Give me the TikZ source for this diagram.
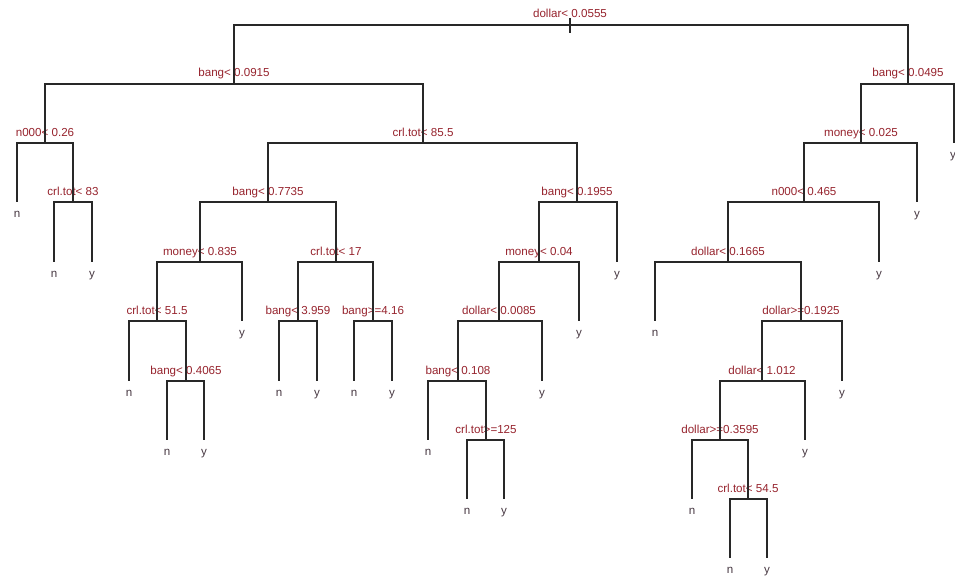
\documentclass[tikz,border=0pt]{standalone}
\usepackage{fontspec}
\setmainfont{Liberation Sans}
\usepackage{tikz}

\definecolor{splitred}{RGB}{150,35,45}
\definecolor{leafgray}{RGB}{70,55,65}
\definecolor{edgegray}{RGB}{40,40,40}

\begin{document}
\begin{tikzpicture}[x=1pt,y=-1pt,
  split/.style={anchor=base,inner sep=0pt,text=splitred,font=\fontsize{11.6}{13}\selectfont},
  leaf/.style={anchor=base,inner sep=0pt,text=leafgray,font=\fontsize{11.6}{13}\selectfont},
  edge/.style={draw=edgegray,line width=1.1pt}]
  \useasboundingbox (0,0) rectangle (955,578);
  % split points (bar levels 25, 84, 143, 202, 262, 321, 381, 440, 499, 558)
  \coordinate (s0) at (570,25);
  \coordinate (s0a) at (570,18);
  \coordinate (s0b) at (570,33);
  \coordinate (s1) at (234,84);
  \coordinate (s2) at (908,84);
  \coordinate (s3) at (45,143);
  \coordinate (s4) at (423,143);
  \coordinate (s5) at (861,143);
  \coordinate (s6) at (73,202);
  \coordinate (s7) at (268,202);
  \coordinate (s8) at (577,202);
  \coordinate (s9) at (804,202);
  \coordinate (s10) at (200,262);
  \coordinate (s11) at (336,262);
  \coordinate (s12) at (539,262);
  \coordinate (s13) at (728,262);
  \coordinate (s14) at (157,321);
  \coordinate (s15) at (298,321);
  \coordinate (s16) at (373,321);
  \coordinate (s17) at (499,321);
  \coordinate (s18) at (801,321);
  \coordinate (s19) at (186,381);
  \coordinate (s20) at (458,381);
  \coordinate (s21) at (762,381);
  \coordinate (s22) at (486,440);
  \coordinate (s23) at (720,440);
  \coordinate (s24) at (748,499);
  % split labels
  \node[split] (s0t) at (570,18) {dollar< 0.0555};
  \node[split] (s1t) at (234,77) {bang< 0.0915};
  \node[split] (s2t) at (908,77) {bang< 0.0495};
  \node[split] (s3t) at (45,136) {n000< 0.26};
  \node[split] (s4t) at (423,136) {crl.tot< 85.5};
  \node[split] (s5t) at (861,136) {money< 0.025};
  \node[split] (s6t) at (73,195) {crl.tot< 83};
  \node[split] (s7t) at (268,195) {bang< 0.7735};
  \node[split] (s8t) at (577,195) {bang< 0.1955};
  \node[split] (s9t) at (804,195) {n000< 0.465};
  \node[split] (s10t) at (200,255) {money< 0.835};
  \node[split] (s11t) at (336,255) {crl.tot< 17};
  \node[split] (s12t) at (539,255) {money< 0.04};
  \node[split] (s13t) at (728,255) {dollar< 0.1665};
  \node[split] (s14t) at (157,314) {crl.tot< 51.5};
  \node[split] (s15t) at (298,314) {bang< 3.959};
  \node[split] (s16t) at (373,314) {bang>=4.16};
  \node[split] (s17t) at (499,314) {dollar< 0.0085};
  \node[split] (s18t) at (801,314) {dollar>=0.1925};
  \node[split] (s19t) at (186,374) {bang< 0.4065};
  \node[split] (s20t) at (458,374) {bang< 0.108};
  \node[split] (s21t) at (762,374) {dollar< 1.012};
  \node[split] (s22t) at (486,433) {crl.tot>=125};
  \node[split] (s23t) at (720,433) {dollar>=0.3595};
  \node[split] (s24t) at (748,492) {crl.tot< 54.5};
  % leaf ends
  \coordinate (l1) at (17,202);
  \coordinate (l2) at (54,262);
  \coordinate (l3) at (92,262);
  \coordinate (l4) at (242,321);
  \coordinate (l5) at (129,381);
  \coordinate (l6) at (167,440);
  \coordinate (l7) at (204,440);
  \coordinate (l8) at (279,381);
  \coordinate (l9) at (317,381);
  \coordinate (l10) at (354,381);
  \coordinate (l11) at (392,381);
  \coordinate (l12) at (617,262);
  \coordinate (l13) at (579,321);
  \coordinate (l14) at (542,381);
  \coordinate (l15) at (428,440);
  \coordinate (l16) at (467,499);
  \coordinate (l17) at (504,499);
  \coordinate (l18) at (954,143);
  \coordinate (l19) at (917,202);
  \coordinate (l20) at (879,262);
  \coordinate (l21) at (655,321);
  \coordinate (l22) at (842,381);
  \coordinate (l23) at (805,440);
  \coordinate (l24) at (692,499);
  \coordinate (l25) at (730,558);
  \coordinate (l26) at (767,558);
  % leaf labels
  \node[leaf] (l1t) at (17,217) {n};
  \node[leaf] (l2t) at (54,277) {n};
  \node[leaf] (l3t) at (92,277) {y};
  \node[leaf] (l4t) at (242,336) {y};
  \node[leaf] (l5t) at (129,396) {n};
  \node[leaf] (l6t) at (167,455) {n};
  \node[leaf] (l7t) at (204,455) {y};
  \node[leaf] (l8t) at (279,396) {n};
  \node[leaf] (l9t) at (317,396) {y};
  \node[leaf] (l10t) at (354,396) {n};
  \node[leaf] (l11t) at (392,396) {y};
  \node[leaf] (l12t) at (617,277) {y};
  \node[leaf] (l13t) at (579,336) {y};
  \node[leaf] (l14t) at (542,396) {y};
  \node[leaf] (l15t) at (428,455) {n};
  \node[leaf] (l16t) at (467,514) {n};
  \node[leaf] (l17t) at (504,514) {y};
  \node[leaf] (l18t) at (953,158) {y};
  \node[leaf] (l19t) at (917,217) {y};
  \node[leaf] (l20t) at (879,277) {y};
  \node[leaf] (l21t) at (655,336) {n};
  \node[leaf] (l22t) at (842,396) {y};
  \node[leaf] (l23t) at (805,455) {y};
  \node[leaf] (l24t) at (692,514) {n};
  \node[leaf] (l25t) at (730,573) {n};
  \node[leaf] (l26t) at (767,573) {y};
  % edges
  \draw[edge] (s0a) -- (s0b);
  \draw[edge] (s0) -| (s1);
  \draw[edge] (s0) -| (s2);
  \draw[edge] (s1) -| (s3);
  \draw[edge] (s1) -| (s4);
  \draw[edge] (s3) -| (l1);
  \draw[edge] (s3) -| (s6);
  \draw[edge] (s6) -| (l2);
  \draw[edge] (s6) -| (l3);
  \draw[edge] (s4) -| (s7);
  \draw[edge] (s4) -| (s8);
  \draw[edge] (s7) -| (s10);
  \draw[edge] (s7) -| (s11);
  \draw[edge] (s10) -| (s14);
  \draw[edge] (s10) -| (l4);
  \draw[edge] (s14) -| (l5);
  \draw[edge] (s14) -| (s19);
  \draw[edge] (s19) -| (l6);
  \draw[edge] (s19) -| (l7);
  \draw[edge] (s11) -| (s15);
  \draw[edge] (s11) -| (s16);
  \draw[edge] (s15) -| (l8);
  \draw[edge] (s15) -| (l9);
  \draw[edge] (s16) -| (l10);
  \draw[edge] (s16) -| (l11);
  \draw[edge] (s8) -| (s12);
  \draw[edge] (s8) -| (l12);
  \draw[edge] (s12) -| (s17);
  \draw[edge] (s12) -| (l13);
  \draw[edge] (s17) -| (s20);
  \draw[edge] (s17) -| (l14);
  \draw[edge] (s20) -| (l15);
  \draw[edge] (s20) -| (s22);
  \draw[edge] (s22) -| (l16);
  \draw[edge] (s22) -| (l17);
  \draw[edge] (s2) -| (s5);
  \draw[edge] (s2) -| (l18);
  \draw[edge] (s5) -| (s9);
  \draw[edge] (s5) -| (l19);
  \draw[edge] (s9) -| (s13);
  \draw[edge] (s9) -| (l20);
  \draw[edge] (s13) -| (l21);
  \draw[edge] (s13) -| (s18);
  \draw[edge] (s18) -| (s21);
  \draw[edge] (s18) -| (l22);
  \draw[edge] (s21) -| (s23);
  \draw[edge] (s21) -| (l23);
  \draw[edge] (s23) -| (l24);
  \draw[edge] (s23) -| (s24);
  \draw[edge] (s24) -| (l25);
  \draw[edge] (s24) -| (l26);
\end{tikzpicture}
\end{document}
